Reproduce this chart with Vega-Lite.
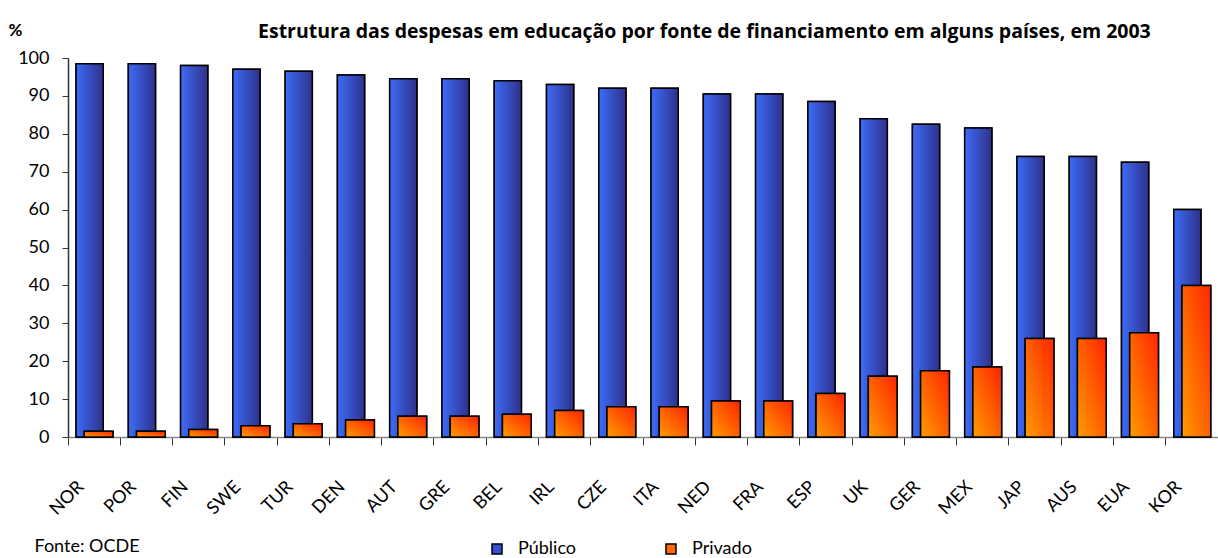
{
  "$schema": "https://vega.github.io/schema/vega-lite/v6.json",
  "width": 1150,
  "height": 379,
  "autosize": {"type": "none"},
  "padding": {"left": 68, "top": 58, "right": 0, "bottom": 121},
  "background": "white",
  "config": {
    "font": "Lato",
    "view": {"stroke": null}
  },
  "title": {
    "text": "Estrutura das despesas em educação por fonte de financiamento em alguns países, em 2003",
    "anchor": "start",
    "dx": 250,
    "fontSize": 19.5,
    "fontWeight": "bold",
    "font": "Open Sans",
    "color": "black",
    "offset": -21
  },
  "data": {
    "values": [
      {"pais": "NOR", "serie": "Público", "valor": 98.5}, {"pais": "NOR", "serie": "Privado", "valor": 1.5},
      {"pais": "POR", "serie": "Público", "valor": 98.5}, {"pais": "POR", "serie": "Privado", "valor": 1.5},
      {"pais": "FIN", "serie": "Público", "valor": 98}, {"pais": "FIN", "serie": "Privado", "valor": 2},
      {"pais": "SWE", "serie": "Público", "valor": 97}, {"pais": "SWE", "serie": "Privado", "valor": 3},
      {"pais": "TUR", "serie": "Público", "valor": 96.5}, {"pais": "TUR", "serie": "Privado", "valor": 3.5},
      {"pais": "DEN", "serie": "Público", "valor": 95.5}, {"pais": "DEN", "serie": "Privado", "valor": 4.5},
      {"pais": "AUT", "serie": "Público", "valor": 94.5}, {"pais": "AUT", "serie": "Privado", "valor": 5.5},
      {"pais": "GRE", "serie": "Público", "valor": 94.5}, {"pais": "GRE", "serie": "Privado", "valor": 5.5},
      {"pais": "BEL", "serie": "Público", "valor": 94}, {"pais": "BEL", "serie": "Privado", "valor": 6},
      {"pais": "IRL", "serie": "Público", "valor": 93}, {"pais": "IRL", "serie": "Privado", "valor": 7},
      {"pais": "CZE", "serie": "Público", "valor": 92}, {"pais": "CZE", "serie": "Privado", "valor": 8},
      {"pais": "ITA", "serie": "Público", "valor": 92}, {"pais": "ITA", "serie": "Privado", "valor": 8},
      {"pais": "NED", "serie": "Público", "valor": 90.5}, {"pais": "NED", "serie": "Privado", "valor": 9.5},
      {"pais": "FRA", "serie": "Público", "valor": 90.5}, {"pais": "FRA", "serie": "Privado", "valor": 9.5},
      {"pais": "ESP", "serie": "Público", "valor": 88.5}, {"pais": "ESP", "serie": "Privado", "valor": 11.5},
      {"pais": "UK", "serie": "Público", "valor": 84}, {"pais": "UK", "serie": "Privado", "valor": 16},
      {"pais": "GER", "serie": "Público", "valor": 82.5}, {"pais": "GER", "serie": "Privado", "valor": 17.5},
      {"pais": "MEX", "serie": "Público", "valor": 81.5}, {"pais": "MEX", "serie": "Privado", "valor": 18.5},
      {"pais": "JAP", "serie": "Público", "valor": 74}, {"pais": "JAP", "serie": "Privado", "valor": 26},
      {"pais": "AUS", "serie": "Público", "valor": 74}, {"pais": "AUS", "serie": "Privado", "valor": 26},
      {"pais": "EUA", "serie": "Público", "valor": 72.5}, {"pais": "EUA", "serie": "Privado", "valor": 27.5},
      {"pais": "KOR", "serie": "Público", "valor": 60}, {"pais": "KOR", "serie": "Privado", "valor": 40}
    ]
  },
  "encoding": {
    "x": {
      "field": "pais",
      "type": "nominal",
      "sort": null,
      "scale": {"paddingInner": 0, "paddingOuter": 0},
      "axis": {
        "bandPosition": 0,
        "title": "Fonte: OCDE",
        "titleX": -34,
        "titleY": 109,
        "titleAlign": "left",
        "titleAnchor": "start",
        "titleBaseline": "middle",
        "titleFontSize": 18,
        "titleFontWeight": "normal",
        "titleColor": "black",
        "titleFont": "Lato",
        "labelAngle": -45,
        "labelAlign": "right",
        "labelBaseline": "middle",
        "labelOffset": -13,
        "labelPadding": 39,
        "labelFontSize": 18,
        "labelColor": "black",
        "labelFont": "Lato",
        "tickSize": 8,
        "tickColor": "#333333",
        "domainColor": "#888888",
        "domainWidth": 1.5,
        "grid": false
      }
    },
    "y": {
      "field": "valor",
      "type": "quantitative",
      "scale": {"domain": [0, 100], "nice": false},
      "axis": {
        "values": [0, 10, 20, 30, 40, 50, 60, 70, 80, 90, 100],
        "title": "%",
        "titleAngle": 0,
        "titleX": -53,
        "titleY": -28,
        "titleAlign": "center",
        "titleBaseline": "middle",
        "titleFontSize": 17,
        "titleFontWeight": "bold",
        "titleColor": "black",
        "titleFont": "Lato",
        "labelFontSize": 18,
        "labelColor": "black",
        "labelFont": "Lato",
        "labelPadding": 13,
        "tickSize": 6,
        "tickColor": "#333333",
        "domainColor": "#333333",
        "domainWidth": 1.5,
        "grid": false
      }
    }
  },
  "layer": [
    {
      "transform": [{"filter": "datum.serie === 'Público'"}],
      "mark": {"type": "bar", "width": {"band": 0.52}, "xOffset": -4.5, "stroke": "black", "strokeWidth": 1.5},
      "encoding": {
        "color": {
          "field": "serie",
          "type": "nominal",
          "scale": {"domain": ["Público", "Privado"], "range": ["#3550d6", "#ff6a00"]},
          "legend": {
            "title": null,
            "orient": "none",
            "legendX": 420,
            "legendY": 482,
            "direction": "horizontal",
            "columns": 2,
            "columnPadding": 85,
            "padding": 0,
            "symbolType": "square",
            "symbolSize": 100,
            "symbolStrokeColor": "black",
            "symbolStrokeWidth": 1.5,
            "symbolOpacity": 1,
            "labelFontSize": 18,
            "labelFont": "Lato",
            "labelColor": "black",
            "labelOffset": 12
          }
        }
      }
    },
    {
      "transform": [{"filter": "datum.serie === 'Público'"}],
      "mark": {
        "type": "bar",
        "width": {"band": 0.52},
        "xOffset": -4.5,
        "stroke": "black",
        "strokeWidth": 1.5,
        "fill": {
          "gradient": "linear",
          "x1": 0, "y1": 0, "x2": 1, "y2": 0,
          "stops": [
            {"offset": 0, "color": "#3d6cf8"},
            {"offset": 1, "color": "#2e318a"}
          ]
        }
      }
    },
    {
      "transform": [{"filter": "datum.serie === 'Privado'"}],
      "mark": {"type": "bar", "width": {"band": 0.55}, "xOffset": 4.5, "stroke": "black", "strokeWidth": 1.5},
      "encoding": {
        "color": {"field": "serie", "type": "nominal"}
      }
    },
    {
      "transform": [{"filter": "datum.serie === 'Privado'"}],
      "mark": {
        "type": "bar",
        "width": {"band": 0.55},
        "xOffset": 4.5,
        "stroke": "black",
        "strokeWidth": 1.5,
        "fill": {
          "gradient": "linear",
          "x1": 0, "y1": 1, "x2": 1, "y2": 0,
          "stops": [
            {"offset": 0, "color": "#ff9c00"},
            {"offset": 1, "color": "#ff2400"}
          ]
        }
      }
    }
  ]
}
